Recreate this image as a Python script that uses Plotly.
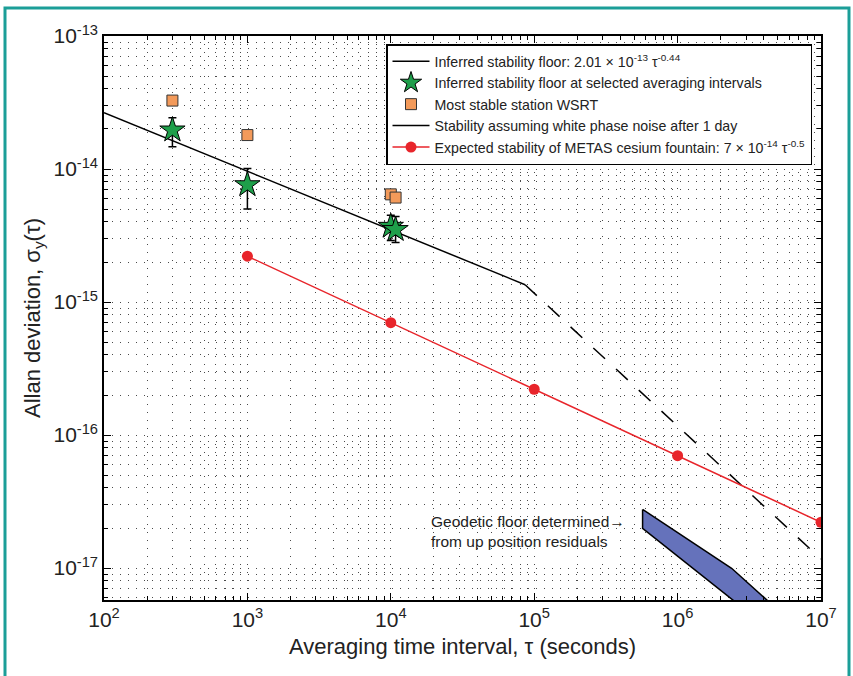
import plotly.graph_objects as go

# ---------------- data ----------------
tau_floor = [1e2, 8.64e4]
sigma_floor = [2.65e-14, 1.35e-15]

tau_white = [8.64e4, 1e7]
sigma_white = [1.35e-15, 1.17e-17]

tau_stars = [300, 1000, 1.0e4, 1.08e4]
sigma_stars = [1.96e-14, 7.6e-15, 3.7e-15, 3.5e-15]
err_plus = [0.47e-14, 2.5e-15, 0.8e-15, 0.9e-15]
err_minus = [0.49e-14, 2.6e-15, 0.8e-15, 0.7e-15]

tau_wsrt = [300, 1000, 1.0e4, 1.08e4]
sigma_wsrt = [3.27e-14, 1.80e-14, 6.45e-15, 6.1e-15]

tau_metas = [1e3, 1e4, 1e5, 1e6, 1e7]
sigma_metas = [2.21e-15, 7.0e-16, 2.21e-16, 7.0e-17, 2.21e-17]

geo_tau = [5.7e5, 2.38e6, 8.0e6, 5.0e6, 5.7e5, 5.7e5]
geo_sigma = [2.76e-17, 9.96e-18, 3.08e-18, 3.1e-18, 1.99e-17, 2.76e-17]

x_tick_vals = [1e2, 1e3, 1e4, 1e5, 1e6, 1e7]
x_tick_text = ["10<sup>2</sup>", "10<sup>3</sup>", "10<sup>4</sup>", "10<sup>5</sup>", "10<sup>6</sup>", "10<sup>7</sup>"]
y_tick_vals = [1e-17, 1e-16, 1e-15, 1e-14, 1e-13]
y_tick_text = ["10<sup>-17</sup>", "10<sup>-16</sup>", "10<sup>-15</sup>", "10<sup>-14</sup>", "10<sup>-13</sup>"]

FONT = "Liberation Sans, Arial, Helvetica, sans-serif"

fig = go.Figure()

# geodetic floor polygon
fig.add_trace(go.Scatter(
    x=geo_tau, y=geo_sigma, mode="lines", fill="toself",
    fillcolor="#6572bb", line=dict(color="black", width=1.5),
    showlegend=False, hoverinfo="skip"))

# inferred stability floor
fig.add_trace(go.Scatter(
    x=tau_floor, y=sigma_floor, mode="lines",
    line=dict(color="black", width=1.5),
    name="Inferred stability floor: 2.01 × 10<sup>-13</sup> τ<sup>-0.44</sup>"))

# stars
fig.add_trace(go.Scatter(
    x=tau_stars, y=sigma_stars, mode="markers",
    marker=dict(symbol="star", size=19, color="#1e9f4a", line=dict(color="black", width=1)),
    error_y=dict(type="data", array=err_plus, arrayminus=err_minus, symmetric=False,
                 color="black", thickness=1.5, width=4),
    name="Inferred stability floor at selected averaging intervals"))

# WSRT squares
fig.add_trace(go.Scatter(
    x=tau_wsrt, y=sigma_wsrt, mode="markers",
    marker=dict(symbol="square", size=11, color="#f39a5a", line=dict(color="#333", width=1)),
    name="Most stable station WSRT"))

# white phase noise (dashed) - hidden from legend
fig.add_trace(go.Scatter(
    x=tau_white, y=sigma_white, mode="lines",
    line=dict(color="black", width=1.5, dash="16px,15px"),
    showlegend=False))
# legend entry (solid sample as in original)
fig.add_trace(go.Scatter(
    x=[None], y=[None], mode="lines",
    line=dict(color="black", width=1.5),
    name="Stability assuming white phase noise after 1 day"))

# METAS
fig.add_trace(go.Scatter(
    x=tau_metas, y=sigma_metas, mode="lines+markers",
    line=dict(color="#e8252b", width=1.5),
    marker=dict(symbol="circle", size=11, color="#e8252b"),
    name="Expected stability of METAS cesium fountain: 7 × 10<sup>-14</sup> τ<sup>-0.5</sup>"))

minor_x = [k * 10 ** n for n in range(2, 7) for k in range(2, 10)]
minor_y = [k * 10.0 ** n for n in range(-18, -13) for k in range(2, 10)]

GRID_DASH = "1px,7px"
GRID_COLOR = "#4a4a4a"

axis_common = dict(
    type="log", showline=True, linecolor="black", linewidth=1.5, mirror="allticks",
    ticks="inside", ticklen=7, tickcolor="black", tickwidth=1,
    showgrid=True, gridcolor=GRID_COLOR, gridwidth=1, griddash=GRID_DASH,
    zeroline=False, tickfont=dict(family=FONT, size=21, color="#222"),
)

fig.update_xaxes(
    **axis_common, range=[2, 7], tickmode="array", tickvals=x_tick_vals, ticktext=x_tick_text,
    minor=dict(tickmode="array", tickvals=minor_x, ticks="inside", ticklen=4, tickcolor="black",
               showgrid=True, gridcolor=GRID_COLOR, gridwidth=1, griddash=GRID_DASH),
    title=dict(text="Averaging time interval, τ (seconds)", font=dict(family=FONT, size=22, color="#222"), standoff=9),
)
fig.update_yaxes(
    **axis_common, range=[-17.24, -13], tickmode="array", tickvals=y_tick_vals, ticktext=y_tick_text,
    minor=dict(tickmode="array", tickvals=minor_y, ticks="inside", ticklen=4, tickcolor="black",
               showgrid=True, gridcolor=GRID_COLOR, gridwidth=1, griddash=GRID_DASH),
    title=dict(text="Allan deviation, σ<sub>y</sub>(τ)", font=dict(family=FONT, size=22, color="#222"), standoff=7),
)

L, R, T, B = 104, 32, 36, 76
W, H = 853, 676
pw, ph = W - L - R, H - T - B

def px2x(px):
    return (px - L) / pw

def px2y(py):
    return (H - B - py) / ph

fig.add_annotation(
    x=px2x(429), y=px2y(531), xref="paper", yref="paper", xanchor="left", yanchor="middle",
    align="left", showarrow=False,
    text="Geodetic floor determined→<br>from up position residuals",
    font=dict(family=FONT, size=15.5, color="#222"))

# teal frame
fig.add_shape(type="rect", xref="paper", yref="paper",
              x0=px2x(5), x1=px2x(849), y0=px2y(700), y1=px2y(8),
              line=dict(color="#1b9e98", width=3), fillcolor="rgba(0,0,0,0)", layer="above")

fig.update_layout(
    width=W, height=H, margin=dict(l=L, r=R, t=T, b=B, autoexpand=False),
    paper_bgcolor="white", plot_bgcolor="white",
    font=dict(family=FONT, color="#222"),
    legend=dict(x=px2x(812), y=px2y(44), xanchor="right", yanchor="top",
                bgcolor="white", bordercolor="black", borderwidth=1.5,
                font=dict(family=FONT, size=14.2, color="#222"),
                tracegroupgap=0, itemwidth=37),
    showlegend=True,
)

fig.write_html("out.html", config={"displayModeBar": False},
               post_script="document.body.style.margin='0px';")
